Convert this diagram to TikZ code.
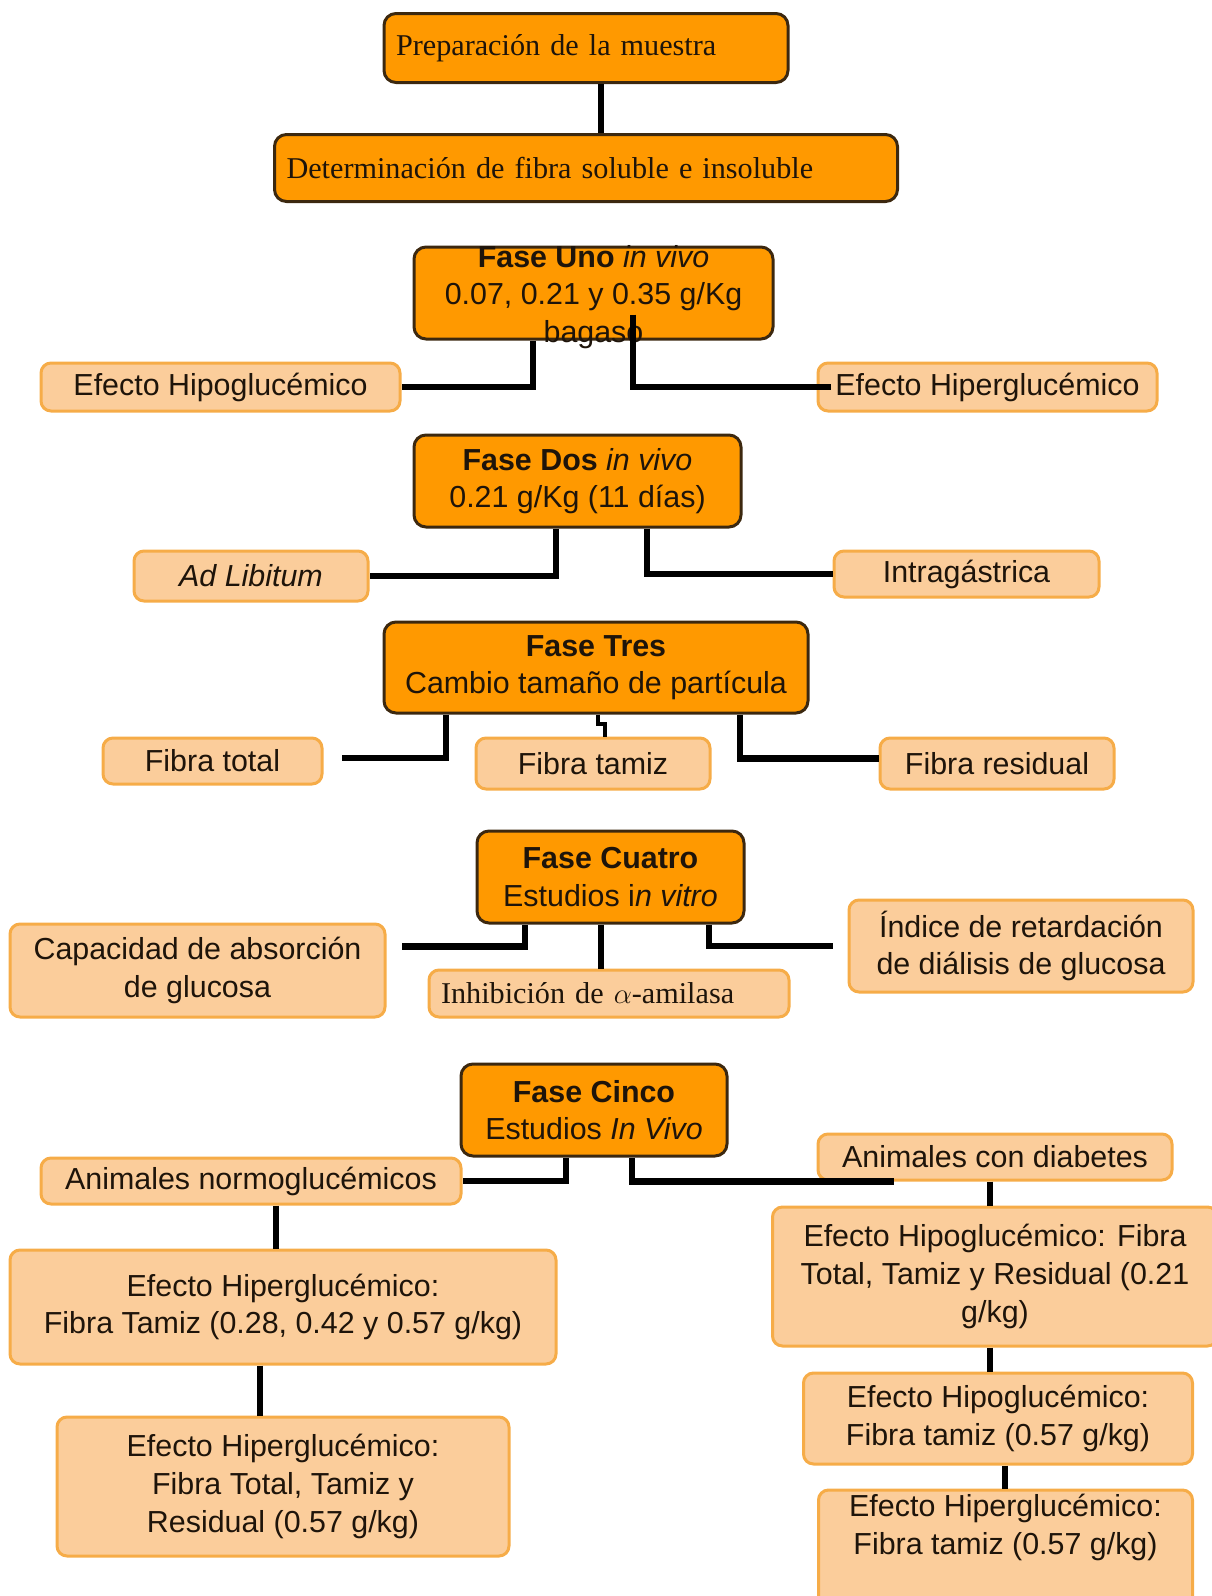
\documentclass[tikz,border=0pt]{standalone}
\usepackage{fontspec}
\setmainfont{Liberation Serif}
\setsansfont{Liberation Sans}
\usepackage{tikz}
\usetikzlibrary{positioning, calc}
\definecolor{fasefill}{RGB}{255,153,0}
\definecolor{fasedraw}{RGB}{60,40,15}
\definecolor{hojafill}{RGB}{251,205,155}
\definecolor{hojadraw}{RGB}{246,172,72}
\definecolor{tinta}{RGB}{30,20,10}
\newcommand{\letra}{\sffamily\fontsize{15.2}{18.8}\selectfont}
\newcommand{\letraserif}{\rmfamily\fontsize{15.1}{18.8}\selectfont}

\begin{document}
\begin{tikzpicture}[x=0.5pt, y=-0.5pt,
		fase/.style={draw=fasedraw, line width=1.5pt, fill=fasefill, rounded corners=6pt, align=center, inner sep=2pt, text=tinta, font=\letra},
		hoja/.style={draw=hojadraw, line width=1.5pt, fill=hojafill, rounded corners=5pt, align=center, inner sep=2pt, text=tinta, font=\letra},
		liga/.style={line width=3.3pt, black}]
		\useasboundingbox (0,0) rectangle (1211,1596);
		\node[fase, font=\letraserif, align=left, text width=190pt, inner xsep=6pt, minimum height=34.5pt] (prep) at (586,48) {Preparación de la muestra};
		\node[fase, font=\letraserif, align=left, text width=299.5pt, inner xsep=6pt, minimum height=33.5pt, below=24.5pt of prep] (det) {Determinación de fibra soluble e insoluble};
		% fase uno
		\node[fase, minimum width=179.5pt, minimum height=46pt] (uno) at (593.5,293) {};
		\node[align=center, text=tinta, font=\letra, inner sep=0pt] (unotexto) at ($(uno.center)+(0,4)$) {\textbf{Fase Uno} \textit{in vivo}\\0.07, 0.21 y 0.35 g/Kg\\bagaso};
			\node[hoja, minimum width=179.5pt, minimum height=24pt] (hipoA) at (220.5,387) {Efecto Hipoglucémico};
			\node[hoja, minimum width=169.5pt, minimum height=24pt] (hiperA) at (987.5,387) {Efecto Hiperglucémico};
		% fase dos
		\node[fase, minimum width=163.5pt, minimum height=46pt] (dos) at (577.5,481) {\textbf{Fase Dos} \textit{in vivo}\\0.21 g/Kg (11 días)};
			\node[hoja, minimum width=117pt, minimum height=25pt] (adlib) at (251,576) {\textit{Ad Libitum}};
			\node[hoja, minimum width=132.5pt, minimum height=23pt] (intra) at (966.5,574) {Intragástrica};
		% fase tres
		\node[fase, minimum width=212pt, minimum height=45.5pt] (tres) at (596,667.5) {\textbf{Fase Tres}\\Cambio tamaño de partícula};
			\node[hoja, minimum width=109.5pt, minimum height=23pt] (ftotal) at (212.5,761) {Fibra total};
			\node[hoja, minimum width=117pt, minimum height=25.5pt] (ftamiz) at (593,763.5) {Fibra tamiz};
			\node[hoja, minimum width=117pt, minimum height=25.5pt] (fresid) at (997,763.5) {Fibra residual};
		% fase cuatro
		\node[fase, minimum width=133.5pt, minimum height=46pt] (cuatro) at (610.5,877) {\textbf{Fase Cuatro}\\Estudios i\textit{n vitro}};
			\node[hoja, minimum width=187.5pt, minimum height=46.5pt] (capac) at (197.5,970.5) {Capacidad de absorción\\de glucosa};
			\node[hoja, font=\letraserif, align=left, text width=168pt, inner xsep=6pt, minimum height=23.5pt] (inhib) at (609,993.5) {Inhibición de $\alpha$-amilasa};
			\node[hoja, minimum width=172pt, minimum height=46pt] (indice) at (1021,946) {Índice de retardación\\de diálisis de glucosa};
		% fase cinco
		\node[fase, minimum width=133pt, minimum height=46pt] (cinco) at (594,1110) {\textbf{Fase Cinco}\\Estudios \textit{In Vivo}};
			\node[hoja, minimum width=210pt, minimum height=23pt] (anorm) at (251,1181) {Animales normoglucémicos};
			\node[hoja, minimum width=177pt, minimum height=23pt] (adiab) at (995,1157) {Animales con diabetes};
			\node[hoja, minimum width=273pt, minimum height=57pt] (hiperB) at (283,1307) {Efecto Hiperglucémico:\\Fibra Tamiz (0.28, 0.42 y 0.57 g/kg)};
			\node[hoja, minimum width=226pt, minimum height=69.5pt, below=25pt of hiperB] (hiperC) {Efecto Hiperglucémico:\\ Fibra Total, Tamiz y\\Residual (0.57 g/kg)};
			\node[hoja, minimum width=222.5pt, minimum height=69.5pt, below=12pt of adiab] (hipoB) {Efecto Hipoglucémico: Fibra\\Total, Tamiz y Residual (0.21\\g/kg)};
			\node[hoja, minimum width=194.5pt, minimum height=45.5pt, below=12pt of hipoB, xshift=1.5pt] (hipoC) {Efecto Hipoglucémico:\\Fibra tamiz (0.57 g/kg)};
			\node[hoja, minimum width=187pt, below=11.5pt of hipoC, xshift=3.75pt] (hiperD) {Efecto Hiperglucémico:\\Fibra tamiz (0.57 g/kg)\\\rule{0pt}{40pt}};
		% ligas
		\foreach \from/\to/\x in {prep/det/601, cuatro/inhib/601, anorm/hiperB/276, hiperB/hiperC/260, adiab/hipoB/990, hipoB/hipoC/990, hipoC/hiperD/1005}
			\draw[liga] (\from.south -| \x,0) -- (\to.north -| \x,0);
		\draw[liga] (uno.south -| 533,0) |- (hipoA.east);
		\draw[liga] ($(uno.south -| 633,0)+(0,-26)$) |- ($(hiperA.west)+(14,0)$);
		\draw[liga] (dos.south -| 556,0) |- (adlib.east);
		\draw[liga] (dos.south -| 647,0) |- (intra.west);
		\draw[liga] (tres.south -| 446,0) |- ($(ftotal.east)+(18,-3)$);
		\draw[liga, line width=2pt] (tres.south -| 598,0) -- ++(0,9) -| (ftamiz.north -| 605,0);
		\draw[liga] (tres.south -| 740,0) |- ($(fresid.west)+(0,-5)$);
		\draw[liga] (cuatro.south -| 525,0) |- ($(capac.east)+(15,-24)$);
		\draw[liga] (cuatro.south -| 709,0) |- ($(indice.west)+(-15,0)$);
		\draw[liga] (cinco.south -| 566,0) |- (anorm.east);
		\draw[liga] (cinco.south -| 632,0) |- ($(adiab.south west)+(77,0)$);
\end{tikzpicture}
\end{document}
